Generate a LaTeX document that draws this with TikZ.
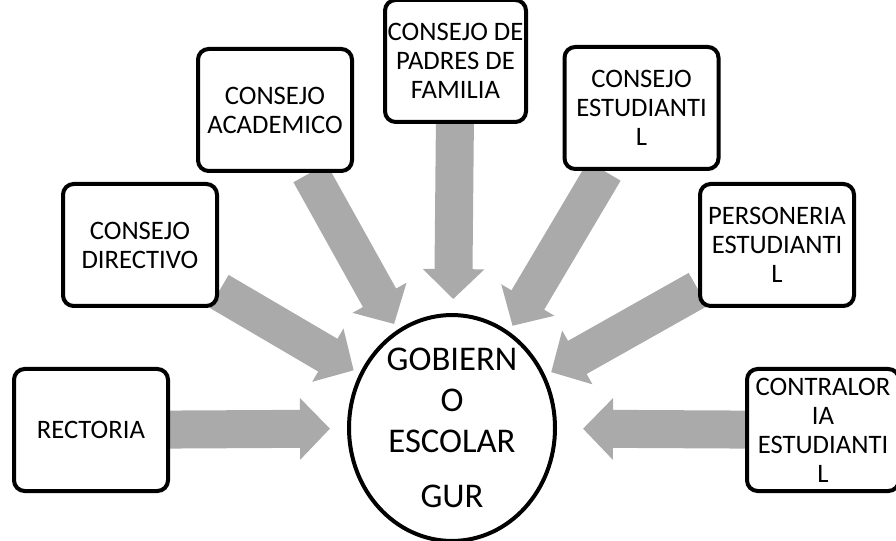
\documentclass[tikz,border=0pt]{standalone}
\usepackage{fontspec}
\setmainfont{Carlito}
\usetikzlibrary{arrows.meta,backgrounds,shapes.geometric}
\definecolor{flecha}{RGB}{170,170,170}

\begin{document}
\begin{tikzpicture}[x=0.75pt,y=-0.75pt,
		caja/.style={draw,line width=3pt,rounded corners=8pt,fill=white,align=center,inner sep=0pt,
			minimum width=115.5pt,minimum height=91.5pt,font=\fontsize{20}{21.75}\selectfont},
		flechagris/.style={draw=flecha,line width=28.5pt,-{Triangle[length=22.5pt,width=45pt]}}]
	\useasboundingbox (0,0) rectangle (896,541);
	% centro
	\node[draw,ellipse,line width=3pt,fill=white,inner sep=0pt,minimum width=154.5pt,minimum height=162pt,
		align=center,font=\fontsize{26}{30.75}\selectfont] (gobierno) at (452,428)
		{GOBIERN\\O\\ESCOLAR\\[10.5pt]GUR};
	% organos
	\node[caja] (rectoria) at (91,430) {RECTORIA};
	\node[caja] (directivo) at (140,245) {CONSEJO\\DIRECTIVO};
	\node[caja] (academico) at (275,110) {CONSEJO\\ACADEMICO};
	\node[caja,minimum width=105.75pt] (padres) at (455.5,61) {CONSEJO DE\\PADRES DE\\FAMILIA};
	\node[caja] (estudiantil) at (641.5,108) {CONSEJO\\ESTUDIANTI\\L};
	\node[caja] (personeria) at (777,245) {PERSONERIA\\ESTUDIANTI\\L};
	\node[caja,minimum width=114pt] (contraloria) at (823,430) {CONTRALOR\\IA\\ESTUDIANTI\\L};
	% flechas
	\begin{scope}[on background layer]
		\draw[flechagris,shorten >=12.75pt] (rectoria) -- (gobierno);
		\draw[flechagris,shorten >=5pt] (directivo) -- (gobierno);
		\draw[flechagris,shorten >=5pt] (academico) -- (gobierno);
		\draw[flechagris,shorten >=10.5pt] (padres) -- (gobierno);
		\draw[flechagris,shorten >=5pt] (estudiantil) -- (gobierno);
		\draw[flechagris,shorten >=5pt] (personeria) -- (gobierno);
		\draw[flechagris,shorten >=19.5pt] (contraloria) -- (gobierno);
	\end{scope}
\end{tikzpicture}
\end{document}
